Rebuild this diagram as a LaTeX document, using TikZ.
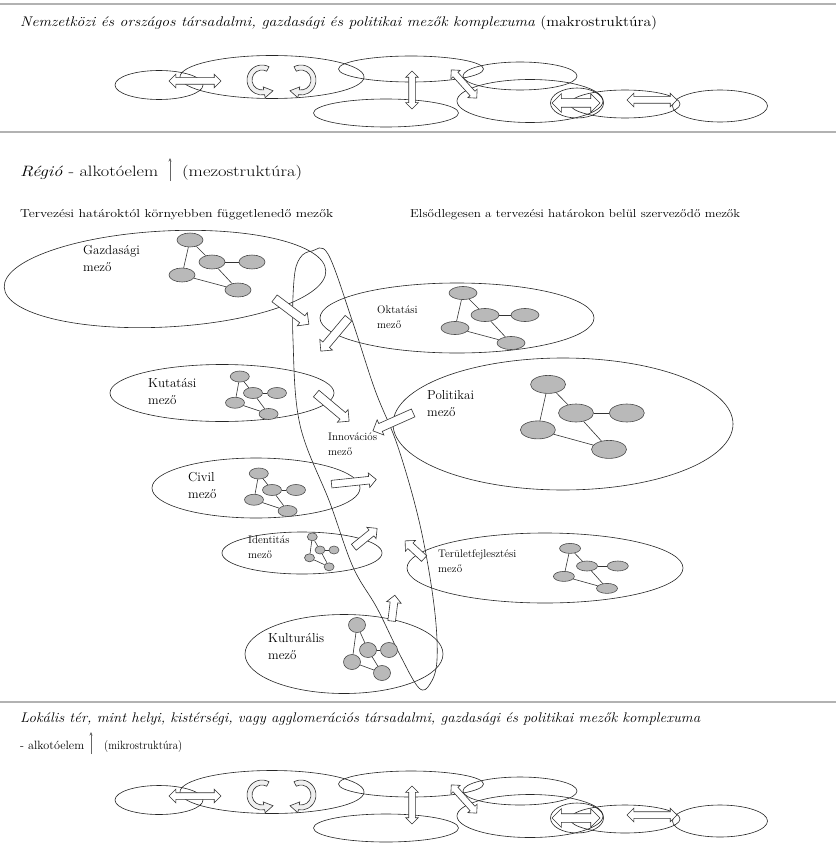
\documentclass[tikz,border=0pt]{standalone}
\usepackage{fontspec}
\usepackage{graphicx}
\usetikzlibrary{shapes.geometric,shapes.arrows,calc,arrows.meta}
\tikzset{
  fld/.style={ellipse, draw=black!85, line width=0.6pt, inner sep=0pt},
  fldline/.style={draw=black!85, line width=0.6pt},
  netnode/.style={ellipse, draw=black!70, fill=gray!55, line width=0.6pt, inner sep=0pt},
  netedge/.style={draw=black!80, line width=0.6pt},
  barrow/.style={single arrow, draw=black!80, fill=white, line width=0.6pt, inner xsep=0pt,
    inner ysep=4pt, single arrow head extend=4pt, anchor=center},
  thinbarrow/.style={barrow, inner ysep=3.5pt, single arrow head extend=3.5pt},
  darrow/.style={double arrow, draw=black!80, fill=white, line width=0.6pt, inner xsep=0pt,
    inner ysep=3pt, double arrow head extend=3.5pt, anchor=center},
  curlband/.style={draw=black!80, fill=gray!12, line width=0.6pt},
  rulestyle/.style={draw=gray!60, line width=2.5pt},
  thinarr/.style={draw=black!60, line width=0.5pt, -{Stealth[length=3.5pt,width=3pt]}},
  lbl/.style={inner sep=0pt, anchor=north west, align=left},
  txt/.style={inner sep=0pt, anchor=base west},
  pics/curl/.style={code={
    \draw[curlband] (-62:15 and 15) arc[start angle=-62, end angle=-280, x radius=15, y radius=15]
      -- (80:18 and 18) -- ($(80:12.5 and 12.5)+(-10:9)$) -- (80:7 and 7) -- (80:10 and 10)
      arc[start angle=80, end angle=298, x radius=10, y radius=10] -- cycle;
  }},
  pics/band/.style={code={
    \node[fld, minimum width=88, minimum height=29] (-e1) at (159,-6) {};
    \node[fld, minimum width=184, minimum height=43] (-e2) at (272,-14) {};
    \node[fld, minimum width=145, minimum height=26] (-e3) at (411,-22) {};
    \node[fld, minimum width=145, minimum height=28] (-e4) at (386,22) {};
    \node[fld, minimum width=114, minimum height=28] (-e5) at (520,-15) {};
    \node[fld, minimum width=146, minimum height=43] (-e6) at (530,10) {};
    \node[fld, minimum width=53, minimum height=30] (-e7) at (577,12) {};
    \node[fld, minimum width=110, minimum height=28] (-e8) at (625,13) {};
    \node[fld, minimum width=95, minimum height=32] (-e9) at (720,15) {};
    \node[darrow, minimum height=52] (-h1) at (195,-10) {};
    \pic at (262,-11) {curl};
    \pic[xscale=-1] at (301,-11) {curl};
    \node[darrow, rotate=90, minimum height=38, double arrow head extend=3pt] (-v) at (412,-1) {};
    \node[darrow, rotate=-48, minimum height=38, double arrow head extend=3pt] (-d) at (464,-7) {};
    \node[darrow, minimum height=48, inner ysep=4pt, double arrow head extend=5pt] (-f) at (576,12) {};
    \node[darrow, minimum height=50] (-g) at (652,9) {};
  }},
  pics/net/.style 2 args={code={
    \node[netnode, minimum width=#1, minimum height=#2] (-t) at (-22,-22) {};
    \node[netnode, minimum width=#1, minimum height=#2] (-m) at (0,0) {};
    \node[netnode, minimum width=#1, minimum height=#2] (-r) at (40,0) {};
    \node[netnode, minimum width=#1, minimum height=#2] (-l) at (-30,13) {};
    \node[netnode, minimum width=#1, minimum height=#2] (-b) at (26,28) {};
    \draw[netedge] (-t) -- (-l);
    \draw[netedge] (-t) -- (-m);
    \draw[netedge] (-m) -- (-r);
    \draw[netedge] (-m) -- (-b);
    \draw[netedge] (-l) -- (-b);
  }},
}
\newcommand\bigfont{\fontsize{13}{17}\selectfont}
\newcommand\smallfont{\fontsize{11}{15}\selectfont}
\begin{document}
\begin{tikzpicture}[x=1pt,y=-1pt]
\useasboundingbox[fill=white] (0,0) rectangle (836,856);

% rules
\coordinate (r1l) at (0,4); \coordinate (r1r) at (836,4);
\coordinate (r2l) at (0,132); \coordinate (r2r) at (836,132);
\coordinate (r3l) at (0,702); \coordinate (r3r) at (836,702);
\draw[rulestyle] (r1l) -- (r1r);
\draw[rulestyle] (r2l) -- (r2r);
\draw[rulestyle] (r3l) -- (r3r);

% top band
\node[txt] (t1) at (20,27) {\resizebox{637pt}{\height}{\fontsize{14}{16}\selectfont\textit{Nemzetközi és országos társadalmi, gazdasági és politikai mezők komplexuma} (makrostruktúra)}};
\pic (mak) at (0,91) {band};

% middle heading
\node[txt] (t2a) at (20,176) {\resizebox{138pt}{\height}{\fontsize{15}{17}\selectfont\textit{Régió} - alkotóelem}};
\coordinate (a2b) at (170,181);
\coordinate (a2t) at (170,158);
\draw[thinarr] (a2b) -- (a2t);
\node[txt] (t2b) at (182,176) {\resizebox{120pt}{\height}{\fontsize{15}{17}\selectfont(mezostruktúra)}};
\node[txt] (t3) at (20,217) {\resizebox{313pt}{\height}{\fontsize{11.5}{13}\selectfont Tervezési határoktól környebben függetlenedő mezők}};
\node[txt] (t4) at (410,217) {\resizebox{330pt}{\height}{\fontsize{11.5}{13}\selectfont Elsődlegesen a tervezési határokon belül szerveződő mezők}};

% fields
\node[fld, minimum width=322, minimum height=96, rotate=3] (gaz) at (165,279) {};
\node[fld, minimum width=274, minimum height=70] (okt) at (457,318) {};
\node[fld, minimum width=340, minimum height=132] (pol) at (563,424) {};
\node[fld, minimum width=224, minimum height=57] (kut) at (222,393) {};
\node[fld, minimum width=208, minimum height=60] (civ) at (256,488) {};
\node[fld, minimum width=160, minimum height=42] (idn) at (302,553) {};
\node[fld, minimum width=276, minimum height=70] (ter) at (545,568) {};
\node[fld, minimum width=198, minimum height=79] (kul) at (344,654) {};
\draw[fldline] plot[smooth cycle, tension=0.6] coordinates {(312,251) (328,254) (352,320) (375,390) (398,447) (420,525) (434,605) (437,660) (430,684) (419,688) (400,655) (377,608) (353,567) (330,503) (300,425) (293,340) (294,280) (300,258)};
\coordinate (inno) at (365,470);

% networks
\pic (ngaz) at (212,262) {net={26}{14}};
\pic (nokt) at (485,315) {net={28}{13}};
\pic[xscale=1.27, yscale=1.3] (npol) at (576,413) {net={35}{18}};
\pic[xscale=0.6, yscale=0.75] (nkut) at (253,393) {net={19}{11}};
\pic[xscale=0.6, yscale=0.75] (nciv) at (272,490) {net={19}{11}};
\pic[xscale=0.35, yscale=0.6] (nidn) at (320,550) {net={10}{8}};
\pic[xscale=0.77, yscale=0.8] (nter) at (587,566) {net={21}{10}};
\node[netnode, minimum width=17, minimum height=15] (kt) at (357,625) {};
\node[netnode, minimum width=17, minimum height=15] (km) at (368,650) {};
\node[netnode, minimum width=17, minimum height=15] (kr) at (389,650) {};
\node[netnode, minimum width=17, minimum height=15] (kl) at (352,662) {};
\node[netnode, minimum width=17, minimum height=15] (kb) at (382,673) {};
\draw[netedge] (kt) -- (kl);
\draw[netedge] (kt) -- (km);
\draw[netedge] (km) -- (kr);
\draw[netedge] (km) -- (kb);
\draw[netedge] (kl) -- (kb);

% block arrows toward the innovation field
\node[barrow, rotate=-37, minimum height=43] (aga) at (290,310) {};
\node[barrow, rotate=-130, minimum height=43] (aok) at (336,333) {};
\node[barrow, rotate=-40, minimum height=43] (aku) at (331,406) {};
\node[barrow, rotate=-156, minimum height=44] (apo) at (395,421) {};
\node[thinbarrow, rotate=6, minimum height=45] (aci) at (352,482) {};
\node[thinbarrow, rotate=39, minimum height=30] (aid) at (364,539) {};
\node[thinbarrow, rotate=137, minimum height=26] (ate) at (416,551) {};
\node[thinbarrow, rotate=83, minimum height=26] (akl) at (393,610) {};

% labels
\node[lbl, font=\bigfont] (lgaz) at (83,245) {Gazdasági\\mező};
\node[lbl, font=\bigfont] (lkut) at (148,378) {Kutatási\\mező};
\node[lbl, font=\bigfont] (lciv) at (188,472) {Civil\\mező};
\node[lbl, font=\bigfont] (lpol) at (427,390) {Politikai\\mező};
\node[lbl, font=\bigfont] (lkul) at (268,633) {Kulturális\\mező};
\node[lbl, font=\smallfont] (lokt) at (377,306) {Oktatási\\mező};
\node[lbl, font=\smallfont] (linn) at (328,433) {Innovációs\\mező};
\node[lbl, font=\smallfont] (lidn) at (248,536) {Identitás\\mező};
\node[lbl, font=\smallfont] (lter) at (438,550) {Területfejlesztési\\mező};

% bottom band
\node[txt] (t5) at (20,722) {\resizebox{680pt}{\height}{\fontsize{14}{16}\selectfont\itshape Lokális tér, mint helyi, kistérségi, vagy agglomerációs társadalmi, gazdasági és politikai mezők komplexuma}};
\node[txt] (t6a) at (20,749) {\resizebox{64pt}{\height}{\fontsize{12}{14}\selectfont - alkotóelem}};
\coordinate (a6b) at (91,754);
\coordinate (a6t) at (91,732);
\draw[thinarr] (a6b) -- (a6t);
\node[txt] (t6b) at (104,749) {\resizebox{78pt}{\height}{\fontsize{12}{14}\selectfont(mikrostruktúra)}};
\pic (mik) at (0,806) {band};
\end{tikzpicture}
\end{document}
